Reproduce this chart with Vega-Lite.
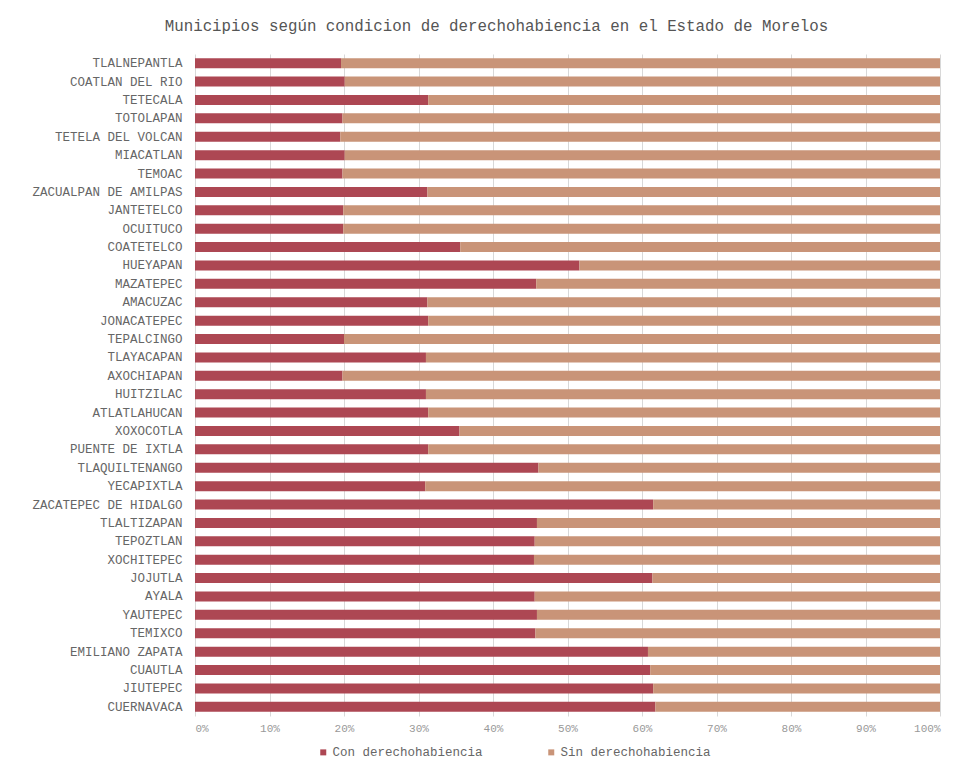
{
  "$schema": "https://vega.github.io/schema/vega-lite/v6.json",
  "autosize": {"type": "none"},
  "padding": {"left": 195, "top": 54, "right": 33, "bottom": 50},
  "width": 745,
  "height": 662,
  "background": "white",
  "title": {
    "text": "Municipios según condicion de derechohabiencia en el Estado de Morelos",
    "font": "Liberation Mono",
    "fontSize": 15.8,
    "fontWeight": "normal",
    "color": "#555555",
    "anchor": "middle",
    "dx": -71,
    "offset": 19
  },
  "data": {
    "values": [
      {"municipio": "TLALNEPANTLA", "con": 19.6, "sin": 80.4},
      {"municipio": "COATLAN DEL RIO", "con": 20.1, "sin": 79.9},
      {"municipio": "TETECALA", "con": 31.3, "sin": 68.7},
      {"municipio": "TOTOLAPAN", "con": 19.8, "sin": 80.2},
      {"municipio": "TETELA DEL VOLCAN", "con": 19.5, "sin": 80.5},
      {"municipio": "MIACATLAN", "con": 20.1, "sin": 79.9},
      {"municipio": "TEMOAC", "con": 19.8, "sin": 80.2},
      {"municipio": "ZACUALPAN DE AMILPAS", "con": 31.2, "sin": 68.8},
      {"municipio": "JANTETELCO", "con": 19.9, "sin": 80.1},
      {"municipio": "OCUITUCO", "con": 19.9, "sin": 80.1},
      {"municipio": "COATETELCO", "con": 35.6, "sin": 64.4},
      {"municipio": "HUEYAPAN", "con": 51.6, "sin": 48.4},
      {"municipio": "MAZATEPEC", "con": 45.8, "sin": 54.2},
      {"municipio": "AMACUZAC", "con": 31.2, "sin": 68.8},
      {"municipio": "JONACATEPEC", "con": 31.3, "sin": 68.7},
      {"municipio": "TEPALCINGO", "con": 20.0, "sin": 80.0},
      {"municipio": "TLAYACAPAN", "con": 31.0, "sin": 69.0},
      {"municipio": "AXOCHIAPAN", "con": 19.8, "sin": 80.2},
      {"municipio": "HUITZILAC", "con": 31.0, "sin": 69.0},
      {"municipio": "ATLATLAHUCAN", "con": 31.3, "sin": 68.7},
      {"municipio": "XOXOCOTLA", "con": 35.5, "sin": 64.5},
      {"municipio": "PUENTE DE IXTLA", "con": 31.3, "sin": 68.7},
      {"municipio": "TLAQUILTENANGO", "con": 46.1, "sin": 53.9},
      {"municipio": "YECAPIXTLA", "con": 30.9, "sin": 69.1},
      {"municipio": "ZACATEPEC DE HIDALGO", "con": 61.5, "sin": 38.5},
      {"municipio": "TLALTIZAPAN", "con": 45.9, "sin": 54.1},
      {"municipio": "TEPOZTLAN", "con": 45.6, "sin": 54.4},
      {"municipio": "XOCHITEPEC", "con": 45.5, "sin": 54.5},
      {"municipio": "JOJUTLA", "con": 61.4, "sin": 38.6},
      {"municipio": "AYALA", "con": 45.6, "sin": 54.4},
      {"municipio": "YAUTEPEC", "con": 45.9, "sin": 54.1},
      {"municipio": "TEMIXCO", "con": 45.7, "sin": 54.3},
      {"municipio": "EMILIANO ZAPATA", "con": 60.8, "sin": 39.2},
      {"municipio": "CUAUTLA", "con": 61.1, "sin": 38.9},
      {"municipio": "JIUTEPEC", "con": 61.5, "sin": 38.5},
      {"municipio": "CUERNAVACA", "con": 61.8, "sin": 38.2}
    ]
  },
  "transform": [
    {"fold": ["con", "sin"], "as": ["clave", "valor"]},
    {"lookup": "clave", "from": {"data": {"values": [
      {"clave": "con", "tipo": "Con derechohabiencia"},
      {"clave": "sin", "tipo": "Sin derechohabiencia"}
    ]}, "key": "clave", "fields": ["tipo"]}}
  ],
  "mark": {"type": "bar", "size": 10},
  "encoding": {
    "y": {
      "field": "municipio",
      "type": "nominal",
      "sort": null,
      "axis": {
        "title": null,
        "ticks": false,
        "domain": false,
        "labelFont": "Liberation Mono",
        "labelFontSize": 12.5,
        "labelColor": "#666666",
        "labelPadding": 13
      }
    },
    "x": {
      "field": "valor",
      "type": "quantitative",
      "stack": "normalize",
      "scale": {"domain": [0, 1], "nice": false},
      "axis": {
        "title": null,
        "format": ".0%",
        "values": [0, 0.1, 0.2, 0.3, 0.4, 0.5, 0.6, 0.7, 0.8, 0.9, 1],
        "ticks": false,
        "domain": false,
        "grid": true,
        "gridColor": "#d8d8d8",
        "labelFont": "Liberation Mono",
        "labelFontSize": 11,
        "labelColor": "#999999",
        "labelPadding": 6
      }
    },
    "color": {
      "field": "tipo",
      "type": "nominal",
      "scale": {
        "domain": ["Con derechohabiencia", "Sin derechohabiencia"],
        "range": ["#ad4753", "#c99478"]
      },
      "legend": {
        "title": null,
        "orient": "none",
        "legendX": 122,
        "legendY": 692,
        "direction": "horizontal",
        "symbolType": "square",
        "symbolSize": 36,
        "symbolStrokeWidth": 0,
        "labelFont": "Liberation Mono",
        "labelFontSize": 12.5,
        "labelColor": "#666666",
        "labelOffset": 3,
        "columnPadding": 62
      }
    },
    "order": {"field": "clave", "type": "nominal", "sort": "ascending"}
  },
  "config": {"view": {"stroke": null}}
}
